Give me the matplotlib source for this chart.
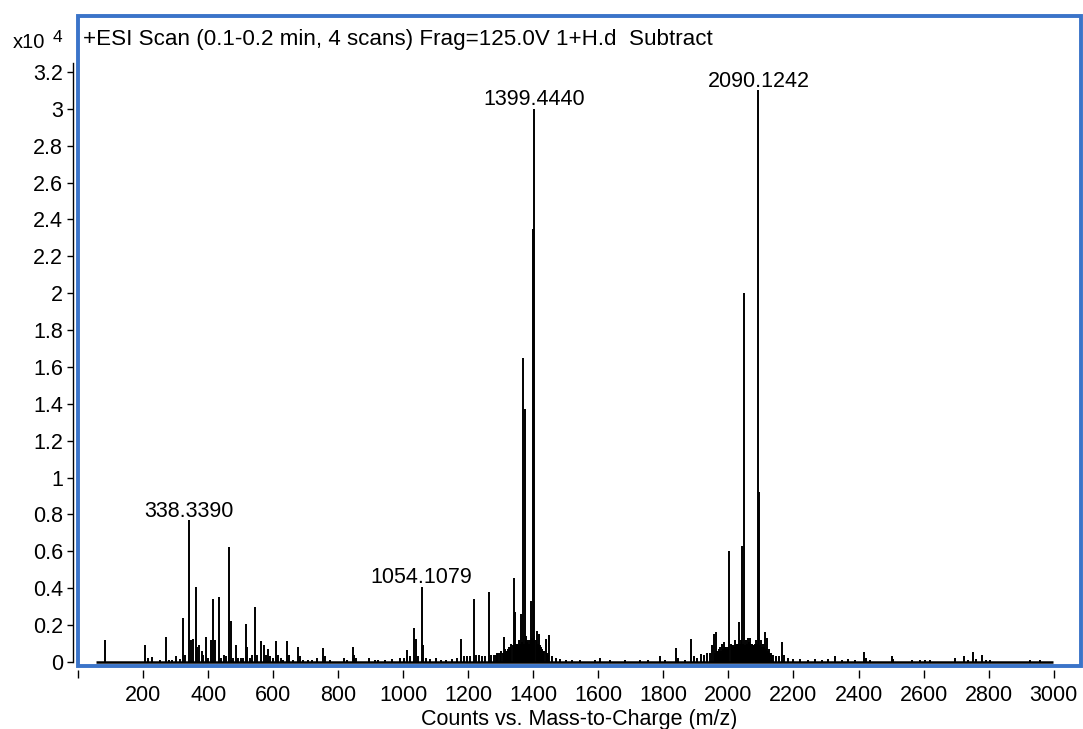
import matplotlib
matplotlib.use('Agg')
import matplotlib.pyplot as plt
from matplotlib.patches import Rectangle
import numpy as np

plt.rcParams['font.family'] = ['Liberation Sans', 'DejaVu Sans']
FS = 15.5

# ---------------- data (intensity in units of 1e4 counts) ----------------
title = "+ESI Scan (0.1-0.2 min, 4 scans) Frag=125.0V 1+H.d  Subtract"
xlabel = "Counts vs. Mass-to-Charge (m/z)"

low_mz = [82.5, 205.5, 214, 226, 251, 269, 278, 288, 300, 312, 321.5, 328, 339, 345, 351,
          361.5, 366, 372, 379, 383, 391, 398, 408, 415, 420, 432, 438, 448, 454, 462,
          468, 475, 484.6, 491, 500, 506, 514.5, 519, 528, 534, 544, 549, 561.5, 571,
          577, 584, 589, 597, 607, 614, 623, 629, 641.5, 648, 660, 676, 682, 691, 706,
          718, 734, 752, 759, 774, 817, 826, 843.7, 849, 854, 894, 912]
low_int = [0.12, 0.092, 0.02, 0.025, 0.01, 0.134, 0.01, 0.01, 0.03, 0.015, 0.237, 0.04, 0.77,
           0.12, 0.123, 0.408, 0.08, 0.09, 0.06, 0.04, 0.134, 0.02, 0.12, 0.34, 0.12, 0.351,
           0.02, 0.04, 0.03, 0.625, 0.224, 0.02, 0.092, 0.02, 0.02, 0.02, 0.206, 0.08, 0.02,
           0.04, 0.297, 0.04, 0.114, 0.092, 0.04, 0.07, 0.03, 0.02, 0.114, 0.04, 0.02, 0.01,
           0.114, 0.04, 0.01, 0.083, 0.03, 0.01, 0.01, 0.01, 0.02, 0.074, 0.03, 0.01, 0.02,
           0.01, 0.083, 0.04, 0.02, 0.02, 0.01]

mid_mz = [921, 943, 965, 989, 1002, 1012, 1020, 1031, 1037.5, 1045, 1056, 1061, 1069, 1082,
          1100, 1115, 1131, 1149, 1165, 1177, 1186, 1195, 1205, 1217, 1223, 1232, 1242, 1251,
          1264, 1269, 1278, 1288, 1297, 1309, 1315, 1322, 1328, 1332, 1339, 1344, 1349, 1355,
          1362, 1368, 1373, 1378, 1383, 1392, 1397, 1403, 1411, 1417, 1423, 1429, 1438, 1449,
          1457, 1469, 1482, 1500, 1518, 1543, 1589, 1605, 1635, 1682]
mid_int = [0.01, 0.01, 0.015, 0.02, 0.02, 0.065, 0.03, 0.186, 0.125, 0.03, 0.408, 0.09, 0.02,
           0.015, 0.02, 0.01, 0.01, 0.015, 0.02, 0.125, 0.03, 0.03, 0.03, 0.34, 0.04, 0.04,
           0.03, 0.03, 0.381, 0.04, 0.04, 0.05, 0.05, 0.134, 0.06, 0.07, 0.08, 0.1, 0.454,
           0.273, 0.1, 0.12, 0.26, 1.65, 1.37, 0.14, 0.12, 0.33, 2.35, 3.0, 0.17, 0.15, 0.08,
           0.06, 0.125, 0.146, 0.03, 0.02, 0.015, 0.01, 0.01, 0.01, 0.01, 0.02, 0.01, 0.01]

mid_noise_mz = [1285, 1292, 1300, 1305, 1312, 1318, 1325, 1336, 1341, 1347, 1352, 1358, 1365,
                1370, 1376, 1381, 1387, 1390, 1395, 1401, 1407, 1414, 1420, 1426, 1432, 1441,
                1446]
mid_noise_int = [0.04, 0.05, 0.06, 0.05, 0.07, 0.06, 0.08, 0.09, 0.08, 0.1, 0.09, 0.1, 0.11,
                 0.1, 0.12, 0.11, 0.1, 0.12, 0.13, 0.14, 0.12, 0.1, 0.09, 0.07, 0.06, 0.05,
                 0.04]

high_mz = [1728, 1752, 1789, 1805, 1838, 1845, 1866, 1886, 1894, 1904, 1915, 1925, 1934, 1943,
           1949, 1955, 1962, 1968, 1974, 1980, 1986, 1992, 2003, 2008, 2014, 2020, 2026, 2033,
           2038, 2042, 2049, 2054, 2060, 2066, 2072, 2078, 2085, 2092, 2095, 2100, 2106, 2112,
           2118, 2125, 2131, 2137, 2146, 2155, 2166, 2171, 2183, 2198, 2220, 2245, 2266, 2288,
           2306, 2328, 2349, 2368, 2389, 2417, 2423, 2435, 2502, 2506, 2565, 2589, 2605, 2620,
           2697, 2724, 2737, 2753, 2761, 2781, 2791, 2805, 2928, 2958]
high_int = [0.01, 0.01, 0.03, 0.01, 0.074, 0.02, 0.01, 0.123, 0.03, 0.02, 0.045, 0.04, 0.05,
            0.05, 0.09, 0.15, 0.165, 0.06, 0.08, 0.1, 0.11, 0.08, 0.6, 0.1, 0.09, 0.12, 0.1,
            0.215, 0.12, 0.63, 2.0, 0.12, 0.13, 0.128, 0.1, 0.09, 0.12, 3.1, 0.92, 0.12, 0.1,
            0.165, 0.13, 0.07, 0.05, 0.04, 0.03, 0.03, 0.11, 0.04, 0.02, 0.015, 0.015, 0.01,
            0.015, 0.01, 0.015, 0.03, 0.01, 0.015, 0.01, 0.053, 0.02, 0.01, 0.032, 0.015, 0.01,
            0.01, 0.01, 0.01, 0.02, 0.033, 0.01, 0.053, 0.015, 0.04, 0.01, 0.01, 0.01, 0.01]

high_noise_mz = [1958, 1965, 1971, 1977, 1983, 1989, 1996, 2000, 2011, 2017, 2023, 2029, 2035,
                 2045, 2051, 2057, 2063, 2069, 2075, 2081, 2088, 2098, 2103, 2109, 2115, 2121,
                 2128, 2134]
high_noise_int = [0.05, 0.06, 0.07, 0.06, 0.07, 0.08, 0.07, 0.08, 0.09, 0.08, 0.09, 0.1, 0.1,
                  0.1, 0.09, 0.1, 0.11, 0.1, 0.09, 0.1, 0.1, 0.09, 0.08, 0.08, 0.07, 0.06,
                  0.05, 0.04]

baseline_range = [54, 2999]

ann_mz = [339, 1056, 1403, 2092]
ann_int = [0.77, 0.408, 3.0, 3.1]
ann_txt = ["338.3390", "1054.1079", "1399.4440", "2090.1242"]

x_ticks = [0, 200, 400, 600, 800, 1000, 1200, 1400, 1600, 1800, 2000, 2200, 2400, 2600,
           2800, 3000]
x_ticklabels = ["", "200", "400", "600", "800", "1000", "1200", "1400", "1600", "1800", "2000",
                "2200", "2400", "2600", "2800", "3000"]
y_ticks = [0, 0.2, 0.4, 0.6, 0.8, 1, 1.2, 1.4, 1.6, 1.8, 2, 2.2, 2.4, 2.6, 2.8, 3, 3.2]
y_ticklabels = ["0", "0.2", "0.4", "0.6", "0.8", "1", "1.2", "1.4", "1.6", "1.8", "2", "2.2",
                "2.4", "2.6", "2.8", "3", "3.2"]

# ---------------- figure ----------------
W, H = 1083, 729
fig = plt.figure(figsize=(W / 100, H / 100), dpi=100)
L, R, T, B = 78, 1081, 16, 666
ax = fig.add_axes([L / W, 1 - B / H, (R - L) / W, (B - T) / H])
ax.set_xlim(-1.5, 3084.6)
ax.set_ylim(-0.0217, 3.503)

BLUE = '#3b74c9'
fig.patches.append(Rectangle((L / W, 1 - B / H), (R - L) / W, (B - T) / H,
                             transform=fig.transFigure, fill=False,
                             edgecolor=BLUE, lw=2.8, zorder=10))

ax.hlines(0, baseline_range[0], baseline_range[1], colors='black', lw=1.8, zorder=3)
for mzs, ints in [(mid_noise_mz, mid_noise_int), (high_noise_mz, high_noise_int),
                  (low_mz, low_int), (mid_mz, mid_int), (high_mz, high_int)]:
    ax.vlines(mzs, 0, ints, colors='black', lw=1.4, zorder=4)

for m, i, t in zip(ann_mz, ann_int, ann_txt):
    ax.annotate(t, (m, i), xytext=(0, 2.5), textcoords='offset points',
                ha='center', va='baseline', fontsize=FS)

for s in ['top', 'right']:
    ax.spines[s].set_visible(False)
ax.spines['left'].set_position(('outward', 3.6))
ax.spines['left'].set_bounds(0, 3.25)
ax.spines['left'].set_linewidth(1.0)
ax.spines['bottom'].set_position(('outward', 3.0))
ax.spines['bottom'].set_color('none')

ax.set_xticks(x_ticks)
ax.set_xticklabels(x_ticklabels, fontsize=FS)
ax.set_yticks(y_ticks)
ax.set_yticklabels(y_ticklabels, fontsize=FS)
ax.tick_params(axis='x', direction='out', length=5.5, width=1.0, pad=5, colors='black')
ax.tick_params(axis='y', direction='out', length=4.3, width=1.0, pad=3, colors='black')
ax.set_xlabel(xlabel, fontsize=FS, labelpad=2)

fig.text(83 / W, 1 - 40 / H, title, fontsize=16.1, ha='left', va='center')
fig.text(13 / W, 1 - 42 / H, "x10", fontsize=14.5, ha='left', va='center')
fig.text(53 / W, 1 - 37 / H, "4", fontsize=12.5, ha='left', va='center')

fig.savefig('out.png', dpi=100)
